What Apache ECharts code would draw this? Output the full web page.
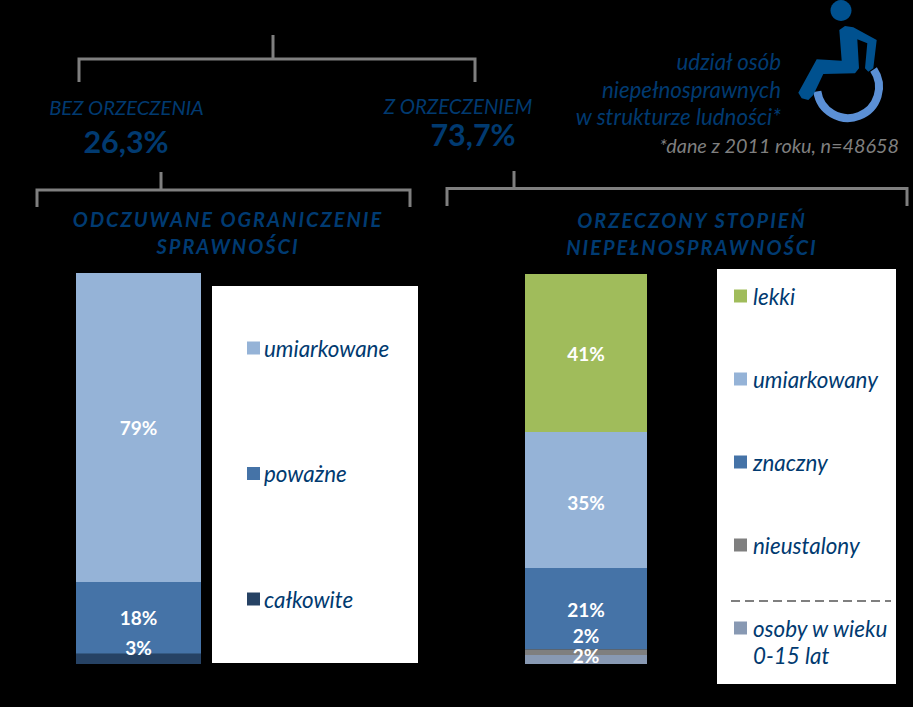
<!DOCTYPE html>
<html>
<head>
<meta charset="utf-8">
<title>Struktura osób niepełnosprawnych</title>
<style>
	html, body { margin: 0; padding: 0; background: #000; }
	#chart { width: 913px; height: 707px; }
	/* naglowki nad slupkami maja rozstrzelone litery */
	#chart svg text[fill="#003b72"] { letter-spacing: 2px; }
</style>
<script src="https://cdn.jsdelivr.net/npm/echarts@6/dist/echarts.min.js"></script>
</head>
<body>
<div id="chart"></div>
<script>
const leftCategory = ['bez orzeczenia'];
const rightCategory = ['z orzeczeniem'];

// od dolu slupka do gory
const leftNames = ['całkowite', 'poważne', 'umiarkowane'];
const leftValues = [2.6, 18.4, 79];
const leftColors = ['#264264', '#4573a7', '#95b3d7'];

const rightNames = ['osoby w wieku 0-15 lat', 'nieustalony', 'znaczny', 'umiarkowany', 'lekki'];
const rightValues = [2.3, 1.5, 20.8, 34.9, 40.5];
const rightColors = ['#8899b3', '#7f7f7f', '#4573a7', '#95b3d7', '#a0bc5b'];

const navy = '#013a70';
const grey = '#7f7f7f';
const font = 'Lato, Carlito, "Open Sans", sans-serif';

function makeSeries(names, values, colors, axisIndex, stack, offsets) {
	return names.map((name, i) => ({
		name: name,
		type: 'bar',
		stack: stack,
		xAxisIndex: axisIndex,
		yAxisIndex: axisIndex,
		barWidth: '100%',
		data: [values[i]],
		itemStyle: { color: colors[i] },
		label: {
			show: true,
			position: 'inside',
			offset: [0, offsets[i]],
			color: '#fff',
			fontFamily: font,
			fontWeight: 'bold',
			fontSize: 19,
			lineHeight: 17,
			formatter: (p) => Math.round(p.value) + '%'
		}
	}));
}

function bracket(x0, x1, yTop, yBar, yEnd, xStem) {
	return [
		{ type: 'polyline', z: 1, shape: { points: [[x0, yEnd], [x0, yBar], [x1, yBar], [x1, yEnd]] }, style: { stroke: grey, lineWidth: 3, fill: null } },
		{ type: 'line', z: 1, shape: { x1: xStem, y1: yTop, x2: xStem, y2: yBar }, style: { stroke: grey, lineWidth: 3 } }
	];
}

function label(text, x, y, size, opts) {
	return {
		type: 'text',
		z: 3,
		x: x,
		y: y,
		style: Object.assign({
			text: text,
			fontFamily: font,
			fontSize: size,
			fontStyle: 'italic',
			fill: navy,
			align: 'center',
			verticalAlign: 'middle'
		}, opts || {})
	};
}

function whiteBox(x, y, width, height) {
	return { type: 'rect', z: 0, shape: { x: x, y: y, width: width, height: height }, style: { fill: '#fff' } };
}

function legend(names, left, top, gap, textShift) {
	return {
		orient: 'vertical',
		left: left,
		top: top,
		padding: 0,
		itemGap: gap,
		itemWidth: 13,
		itemHeight: 13,
		icon: 'rect',
		data: names,
		selectedMode: false,
		textStyle: { color: navy, fontFamily: font, fontStyle: 'italic', fontSize: 22.4, lineHeight: 24, padding: [0, 0, 0, textShift] }
	};
}

// ikona wozka, obrys
const iconDark = '#00518f';
const iconBody = [
	[839.3, 30], [845, 26], [853.3, 27.3], [876.7, 40], [873.3, 68.3], [868.3, 71.7], [865, 68.3],
	[867.3, 43.3], [857.3, 39.3], [859, 68.3], [855, 73.3], [823.3, 74], [813.3, 95], [808.3, 100],
	[801.7, 98.3], [798.3, 92.7], [816.7, 59.3], [841.7, 60.7]
];
const wheelchair = [
	{ type: 'arc', z: 2, shape: { cx: 848, cy: 87, r: 31, startAngle: -0.6, endAngle: 3.0, clockwise: true }, style: { stroke: '#5b90d6', lineWidth: 8, fill: null } },
	{ type: 'circle', z: 3, shape: { cx: 841, cy: 10.5, r: 10.5 }, style: { fill: iconDark } },
	{ type: 'polygon', z: 3, shape: { points: iconBody }, style: { fill: iconDark } }
];

const graphics = [
	whiteBox(212, 286, 206, 377),
	whiteBox(717, 269, 179, 415),
	...bracket(79, 475, 35, 59, 82, 273),
	...bracket(37, 410, 172, 190, 207, 161),
	...bracket(447, 907, 171, 188.5, 206, 514),
	...wheelchair,
	label('BEZ ORZECZENIA', 126.5, 107, 20.2),
	label('26,3%', 126, 141, 30.5, { fontWeight: 'bold', fontStyle: 'normal' }),
	label('Z ORZECZENIEM', 458, 106, 20.4),
	label('73,7%', 473, 134, 30.5, { fontWeight: 'bold', fontStyle: 'normal' }),
	label('udział osób', 781, 61, 22.3, { align: 'right' }),
	label('niepełnosprawnych', 781, 89, 22.3, { align: 'right' }),
	label('w strukturze ludności*', 781, 116, 22.3, { align: 'right' }),
	label('*dane z 2011 roku, n=48658', 899, 145, 19.8, { align: 'right', fill: grey }),
	label('ODCZUWANE OGRANICZENIE', 228, 219, 20, { fontWeight: 'bold', fill: '#003b72' }),
	label('SPRAWNOŚCI', 228, 246, 20, { fontWeight: 'bold', fill: '#003b72' }),
	label('ORZECZONY STOPIEŃ', 692, 220, 20, { fontWeight: 'bold', fill: '#003b72' }),
	label('NIEPEŁNOSPRAWNOŚCI', 692, 247, 20, { fontWeight: 'bold', fill: '#003b72' }),
	{ type: 'line', z: 1, shape: { x1: 731, y1: 601, x2: 891, y2: 601 }, style: { stroke: grey, lineWidth: 2, lineDash: [9, 5] } },
	label('0-15 lat', 753, 655, 22.4, { align: 'left' })
];

const myChart = echarts.init(document.getElementById('chart'), null, { renderer: 'svg' });
myChart.setOption({
	animation: false,
	backgroundColor: '#000',
	grid: [
		{ left: 76, top: 273, width: 125, height: 391 },
		{ left: 525, top: 274, width: 122, height: 390 }
	],
	xAxis: [
		{ type: 'category', gridIndex: 0, data: leftCategory, show: false },
		{ type: 'category', gridIndex: 1, data: rightCategory, show: false }
	],
	yAxis: [
		{ type: 'value', gridIndex: 0, min: 0, max: 100, show: false },
		{ type: 'value', gridIndex: 1, min: 0, max: 100, show: false }
	],
	legend: [
		legend(['umiarkowane', 'poważne', 'całkowite'], 247, 336, 101.5, -1),
		legend(['lekki', 'umiarkowany', 'znaczny', 'nieustalony'], 734, 284, 59, 1),
		Object.assign(legend(['osoby w wieku 0-15 lat'], 734, 616, 0, 1), { formatter: () => 'osoby w wieku' })
	],
	graphic: graphics,
	series: [
		...makeSeries(leftNames, leftValues, leftColors, 0, 'left', [-11, 0, 0]),
		...makeSeries(rightNames, rightValues, rightColors, 1, 'right', [-4, -17, 1, 2, 1])
	]
});
</script>
</body>
</html>
